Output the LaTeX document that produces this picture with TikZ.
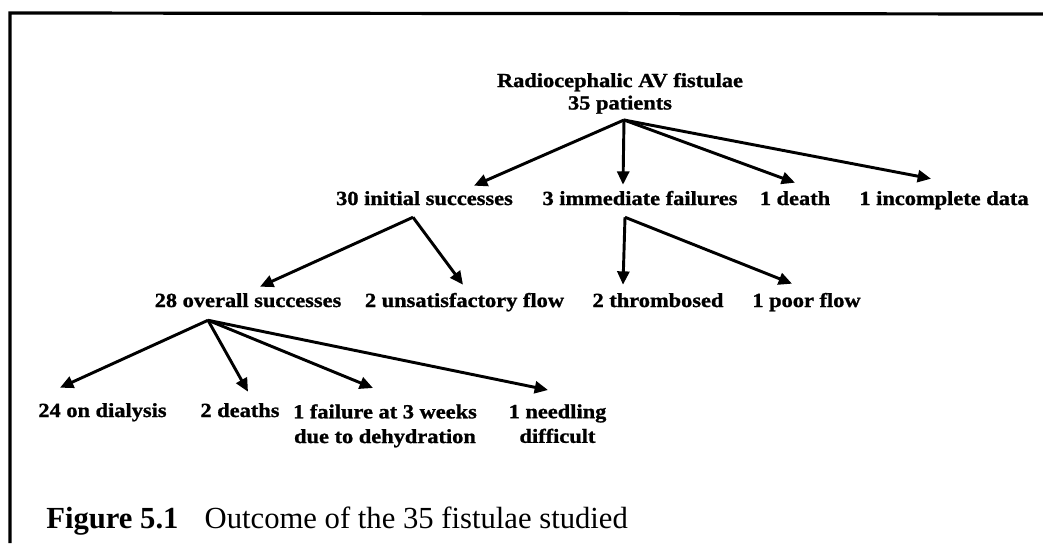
\documentclass[tikz,border=0pt]{standalone}
\usepackage{fontspec}
\setmainfont{Liberation Serif}
\newfontfamily\diagfont[FakeStretch=1.12, BoldFeatures={FakeBold=1.2}]{Liberation Serif}
\usetikzlibrary{arrows.meta,calc}
\begin{document}
\begin{tikzpicture}[x=0.75pt,y=-0.75pt,
  lbl/.style={font=\diagfont\bfseries\fontsize{15}{18.5}\selectfont, inner sep=0pt, text height=10pt, text depth=3pt, anchor=base},
  lbl2/.style={font=\diagfont\bfseries\fontsize{15}{18.5}\selectfont, inner sep=0pt, align=center, anchor=north},
  arr/.style={line width=2.2pt, -{Triangle[length=10pt,width=9pt]}},
  frame/.style={line width=2.4pt}]
\useasboundingbox (0,0) rectangle (1043,543);
% frame
\coordinate (tl) at (10,13);
\coordinate (tr) at (1043,14);
\coordinate (bl) at (10,543);
\draw[frame] (tr) -- (tl) -- (bl);
% nodes
\node[lbl2, anchor=south, font=\diagfont\bfseries\fontsize{15}{16.8}\selectfont] (root) at (620,114) {Radiocephalic AV fistulae\\35 patients};
\node[lbl] (s30) at (424.5,205) {30 initial successes};
\node[lbl] (f3) at (640,205) {3 immediate failures};
\node[lbl] (d1) at (795,205) {1 death};
\node[lbl] (inc) at (944,205) {1 incomplete data};
\node[lbl] (o28) at (248,307) {28 overall successes};
\node[lbl] (unsat) at (464.5,307) {2 unsatisfactory flow};
\node[lbl] (thr) at (658,307) {2 thrombosed};
\node[lbl] (poor) at (806.5,307) {1 poor flow};
\node[lbl] (dial) at (102.5,417) {24 on dialysis};
\node[lbl] (deaths) at (240,417) {2 deaths};
\node[lbl2] (fail) at (385,404) {1 failure at 3 weeks\\due to dehydration};
\node[lbl2] (needl) at (557.5,404) {1 needling\\difficult};
% caption
\node[anchor=base west, inner sep=0pt, font=\fontsize{23}{27}\selectfont] (cap) at (46,528) {\textbf{Figure 5.1}\hspace{0.85em}Outcome of the 35 fistulae studied};
% arrows
\draw[arr] ($(root.south)+(4,6)$) -- ($(s30.north)+(49.5,-5.7)$);
\draw[arr] ($(root.south)+(4,6)$) -- ($(f3.north)+(-17,-6.7)$);
\draw[arr] ($(root.south)+(4,6)$) -- ($(d1.north)+(0,-8.7)$);
\draw[arr] ($(root.south)+(4,6)$) -- ($(inc.north)+(-13,-12.7)$);
\draw[arr] ($(s30.south)+(-11.5,8)$) -- ($(o28.north)+(12,-6.7)$);
\draw[arr] ($(s30.south)+(-11.5,8)$) -- ($(unsat.north)+(-1.5,-8.7)$);
\draw[arr] ($(f3.south)+(-15,8)$) -- ($(thr.north)+(-35,-8.7)$);
\draw[arr] ($(f3.south)+(-15,8)$) -- ($(poor.north)+(-14.5,-9.7)$);
\draw[arr] ($(o28.south)+(-40,9)$) -- ($(dial.north)+(-42.5,-15.7)$);
\draw[arr] ($(o28.south)+(-40,9)$) -- ($(deaths.north)+(8,-11.7)$);
\draw[arr] ($(o28.south)+(-40,9)$) -- ($(fail.north)+(-12,-16)$);
\draw[arr] ($(o28.south)+(-40,9)$) -- ($(needl.north)+(-9.5,-14)$);
\end{tikzpicture}
\end{document}
